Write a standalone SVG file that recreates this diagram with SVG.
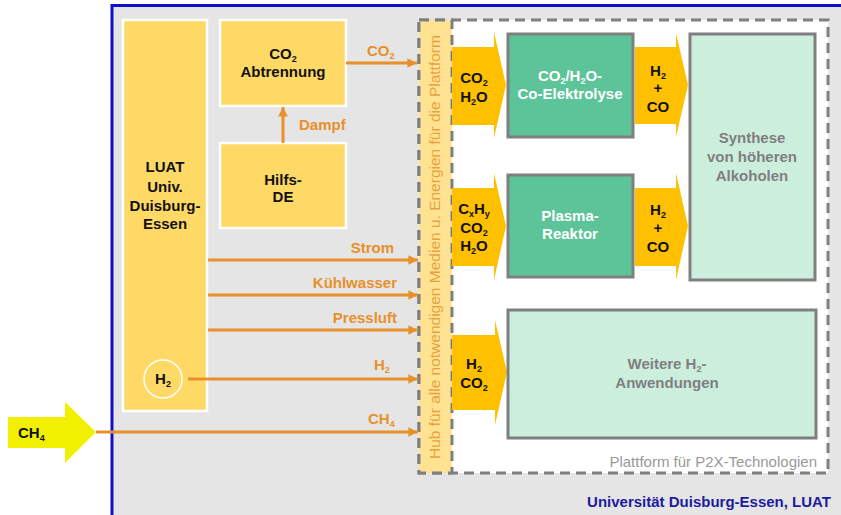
<svg xmlns="http://www.w3.org/2000/svg" width="841" height="515" viewBox="0 0 841 515">
<defs>
<style>
.t{font-family:"Liberation Sans",Arial,sans-serif;font-weight:bold;font-size:15px}
.c{text-anchor:middle}
.o{fill:#E8902A}
.k{fill:#111}
.w{fill:#fff}
.g{fill:#7f7f7f}
.s{font-size:9px}
.ln{stroke:#E8902A;stroke-width:3;fill:none}
.yb{fill:#FFD966;stroke:#fff;stroke-width:2.5}
.gb{fill:#5DC49A;stroke:#7f7f7f;stroke-width:3}
.mb{fill:#CCEEDD;stroke:#7f7f7f;stroke-width:3}
.ar{fill:#FFC000}
.dash{fill:none;stroke:#7f7f7f;stroke-width:3;stroke-dasharray:10 6}
</style>
<marker id="ah" viewBox="0 0 10 10" refX="10" refY="5" markerWidth="3.2" markerHeight="3.2" orient="auto" markerUnits="strokeWidth">
<path d="M0,0 L10,5 L0,10 Z" fill="#E8902A"/>
</marker>
</defs>
<rect x="0" y="0" width="841" height="515" fill="#fff"/>
<rect x="111" y="5" width="730" height="510" fill="#E5E5E5"/>
<path d="M112,515 V5.5 H841" fill="none" stroke="#1010CC" stroke-width="3"/>

<g id="platform">
<rect x="419" y="20" width="409" height="453" fill="#fff"/>
<rect x="419" y="20" width="409" height="453" class="dash"/>
<text x="817" y="467" font-family="Liberation Sans,Arial,sans-serif" font-size="15" fill="#999" text-anchor="end">Plattform für P2X-Technologien</text>
</g>

<g id="hub">
<rect x="419" y="20" width="33" height="453" fill="#FFE393"/>
<rect x="419" y="20" width="33" height="453" class="dash"/>
<text transform="translate(440,459) rotate(-90)" font-family="Liberation Sans,Arial,sans-serif" font-size="15.5" fill="#E9A23B">Hub für alle notwendigen Medien u. Energien für die Plattform</text>
</g>

<g id="luat">
<rect x="123" y="20" width="84" height="391" class="yb"/>
<text class="t c k" x="165" y="172">LUAT</text>
<text class="t c k" x="165" y="192">Univ.</text>
<text class="t c k" x="165" y="211">Duisburg-</text>
<text class="t c k" x="165" y="229">Essen</text>
</g>

<g id="h2circle">
<circle cx="163" cy="379" r="19" fill="none" stroke="#fff" stroke-width="1.5"/>
<text class="t c k" x="163" y="384">H<tspan class="s" dy="3">2</tspan></text>
</g>

<g id="co2abtrennung">
<rect x="220" y="20" width="126" height="86" class="yb"/>
<text class="t c k" x="283" y="59">CO<tspan class="s" dy="3">2</tspan></text>
<text class="t c k" x="283" y="77">Abtrennung</text>
</g>

<g id="hilfsde">
<rect x="220" y="143" width="126" height="85" class="yb"/>
<text class="t c k" x="283" y="185">Hilfs-</text>
<text class="t c k" x="283" y="202">DE</text>
</g>

<g id="ch4input">
<path d="M8,417 H65 V402 L96,432 L65,463 V448 H8 Z" fill="#F0F000"/>
<text class="t k" x="18" y="438">CH<tspan class="s" dy="3">4</tspan></text>
</g>

<g id="in1">
<path d="M452,47 H494 V32 L506,85 L494,138 V125 H452 Z" class="ar"/>
<text class="t c k" x="474" y="83">CO<tspan class="s" dy="3">2</tspan></text>
<text class="t c k" x="474" y="102">H<tspan class="s" dy="3">2</tspan><tspan dy="-3">O</tspan></text>
</g>

<g id="in2">
<path d="M452,188 H494 V173 L506,226 L494,280 V266 H452 Z" class="ar"/>
<text class="t c k" x="474" y="214">C<tspan class="s" dy="3">x</tspan><tspan dy="-3">H</tspan><tspan class="s" dy="3">y</tspan></text>
<text class="t c k" x="474" y="233">CO<tspan class="s" dy="3">2</tspan></text>
<text class="t c k" x="474" y="251">H<tspan class="s" dy="3">2</tspan><tspan dy="-3">O</tspan></text>
</g>

<g id="in3">
<path d="M452,335 H495 V320 L507,372 L495,425 V410 H452 Z" class="ar"/>
<text class="t c k" x="474" y="369">H<tspan class="s" dy="3">2</tspan></text>
<text class="t c k" x="474" y="388">CO<tspan class="s" dy="3">2</tspan></text>
</g>

<g id="elektrolyse">
<rect x="508" y="34" width="125" height="103" class="gb"/>
<text class="t c w" x="570" y="81">CO<tspan class="s" dy="3">2</tspan><tspan dy="-3">/H</tspan><tspan class="s" dy="3">2</tspan><tspan dy="-3">O-</tspan></text>
<text class="t c w" x="570" y="99">Co-Elektrolyse</text>
</g>

<g id="plasma">
<rect x="508" y="175" width="125" height="102" class="gb"/>
<text class="t c w" x="570" y="221">Plasma-</text>
<text class="t c w" x="570" y="239">Reaktor</text>
</g>

<g id="out1">
<path d="M635,47 H676 V33 L688,85 L676,137 V124 H635 Z" class="ar"/>
<text class="t c k" x="658" y="76">H<tspan class="s" dy="3">2</tspan></text>
<text class="t c k" x="658" y="93">+</text>
<text class="t c k" x="658" y="112">CO</text>
</g>

<g id="out2">
<path d="M635,188 H676 V173 L688,226 L676,280 V266 H635 Z" class="ar"/>
<text class="t c k" x="658" y="215">H<tspan class="s" dy="3">2</tspan></text>
<text class="t c k" x="658" y="233">+</text>
<text class="t c k" x="658" y="252">CO</text>
</g>

<g id="synthese">
<rect x="690" y="34" width="125" height="246" class="mb"/>
<text class="t c g" x="752" y="143">Synthese</text>
<text class="t c g" x="752" y="162">von höheren</text>
<text class="t c g" x="752" y="181">Alkoholen</text>
</g>

<g id="weitere">
<rect x="508" y="310" width="308" height="128" class="mb"/>
<text class="t c g" x="667" y="369">Weitere H<tspan class="s" dy="3">2</tspan><tspan dy="-3">-</tspan></text>
<text class="t c g" x="667" y="388">Anwendungen</text>
</g>

<g id="connectors">
<line x1="346" y1="63" x2="417" y2="63" class="ln" marker-end="url(#ah)"/>
<text class="t o" x="367" y="56">CO<tspan class="s" dy="3">2</tspan></text>
<line x1="283" y1="143" x2="283" y2="107" class="ln" marker-end="url(#ah)"/>
<text class="t o" x="299" y="130">Dampf</text>
<line x1="208" y1="260" x2="418" y2="260" class="ln" marker-end="url(#ah)"/>
<text class="t o" x="394" y="253" text-anchor="end">Strom</text>
<line x1="208" y1="295" x2="418" y2="295" class="ln" marker-end="url(#ah)"/>
<text class="t o" x="397" y="288" text-anchor="end">Kühlwasser</text>
<line x1="208" y1="330" x2="418" y2="330" class="ln" marker-end="url(#ah)"/>
<text class="t o" x="397" y="323" text-anchor="end">Pressluft</text>
<line x1="188" y1="379" x2="418" y2="379" class="ln" marker-end="url(#ah)"/>
<text class="t o" x="374" y="370">H<tspan class="s" dy="3">2</tspan></text>
<line x1="96" y1="432" x2="418" y2="432" class="ln" marker-end="url(#ah)"/>
<text class="t o" x="368" y="424">CH<tspan class="s" dy="3">4</tspan></text>
</g>

<text x="831" y="507" font-family="Liberation Sans,Arial,sans-serif" font-weight="bold" font-size="15" fill="#1C1C9C" text-anchor="end">Universität Duisburg-Essen, LUAT</text>
</svg>
